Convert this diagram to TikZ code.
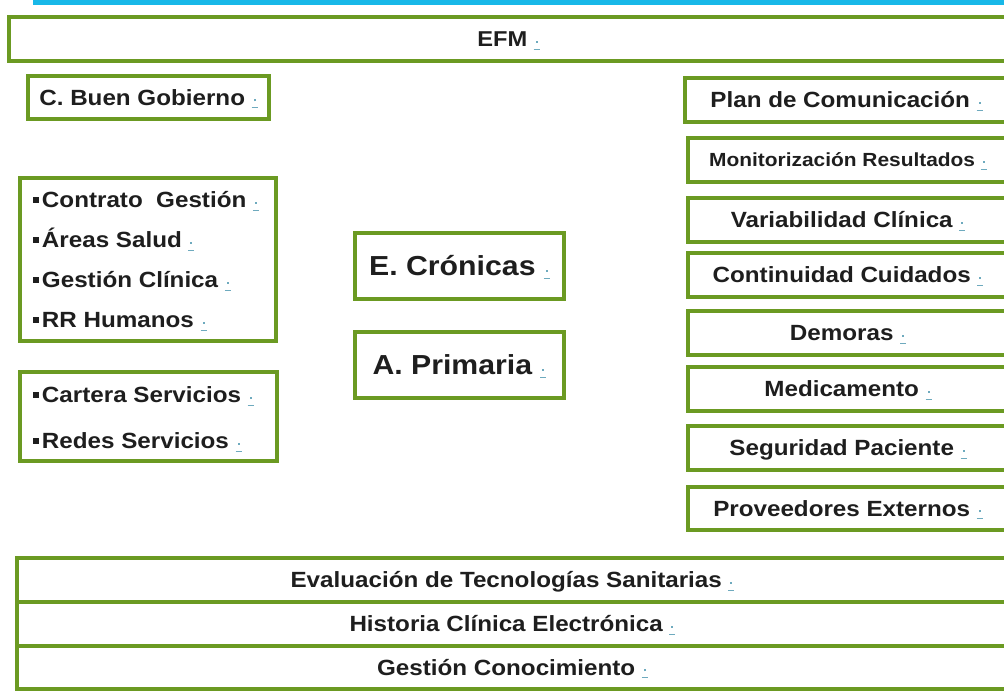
\documentclass[tikz,border=0pt]{standalone}
\usepackage{fontspec}
\setmainfont{Liberation Sans}[FakeStretch=1.1]
\definecolor{boxgreen}{RGB}{107,154,34}
\definecolor{topcyan}{RGB}{24,184,232}
\definecolor{linkc}{RGB}{110,170,190}
\definecolor{txt}{RGB}{30,30,30}
\newcommand{\lnk}{\hspace{0.3em}\textcolor{linkc}{\rlap{\rule[-3pt]{6pt}{1.2pt}}\hspace{2pt}\raisebox{4pt}{\rule{2pt}{2pt}}\hspace{2pt}}}
\newcommand{\sqb}{\rule[0.24em]{0.25em}{0.25em}\hspace{0.15em}}

\begin{document}
\begin{tikzpicture}[
    x=1pt,
    y=-1pt,
    fs/.style={font=\bfseries\fontsize{#1}{#1}\selectfont, text height=0.72*#1pt},
    b/.style={draw=boxgreen, line width=4pt, fill=white, text=txt, inner sep=0pt,
        text depth=0pt, fs=22},
    item/.style={anchor=west, inner sep=0pt, text=txt, text depth=0pt, fs=22},
]
    \useasboundingbox (0, 0) rectangle (1004, 700);
    \draw[topcyan, line width=5pt] (33, 2.5) -- (1010, 2.5);

    \node[b, minimum width=999pt, minimum height=44pt, fs=21.5] (efm) at (508.5, 39) {EFM\lnk};
    \node[b, minimum width=241pt, minimum height=43pt] (gob) at (148.5, 97.5) {C. Buen Gobierno\lnk};

    \node[b, minimum width=256pt, minimum height=163pt] (grpA) at (148, 259.5) {};
    \node[item] (contrato) at (33, 200) {\sqb Contrato\ \ Gestión\lnk};
    \node[item] (areas) at (33, 240) {\sqb Áreas Salud\lnk};
    \node[item] (gclin) at (33, 280) {\sqb Gestión Clínica\lnk};
    \node[item] (rrhh) at (33, 320) {\sqb RR Humanos\lnk};

    \node[b, minimum width=257pt, minimum height=89pt] (grpB) at (148.5, 416.5) {};
    \node[item] (cartera) at (33, 395) {\sqb Cartera Servicios\lnk};
    \node[item] (redes) at (33, 441) {\sqb Redes Servicios\lnk};

    \node[b, minimum width=209pt, minimum height=66pt, fs=27.5] (cron) at (459.5, 266) {E. Crónicas\lnk};
    \node[b, minimum width=209pt, minimum height=66pt, fs=27.5] (prim) at (459.5, 365) {A. Primaria\lnk};

    \node[b, minimum width=323pt, minimum height=44pt] (plan) at (846.5, 100) {Plan de Comunicación\lnk};
    \node[b, minimum width=320pt, minimum height=44pt, fs=19] (mon) at (848, 160) {Monitorización Resultados\lnk};
    \node[b, minimum width=320pt, minimum height=44pt] (var) at (848, 220) {Variabilidad Clínica\lnk};
    \node[b, minimum width=320pt, minimum height=44pt] (cont) at (848, 275) {Continuidad Cuidados\lnk};
    \node[b, minimum width=320pt, minimum height=44pt] (dem) at (848, 333) {Demoras\lnk};
    \node[b, minimum width=320pt, minimum height=44pt] (med) at (848, 389) {Medicamento\lnk};
    \node[b, minimum width=320pt, minimum height=44pt] (seg) at (848, 448) {Seguridad Paciente\lnk};
    \node[b, minimum width=320pt, minimum height=43pt] (prov) at (848, 508.5) {Proveedores Externos\lnk};

    \node[b, minimum width=991pt, minimum height=44pt] (ets) at (512.5, 580) {Evaluación de Tecnologías Sanitarias\lnk};
    \node[b, minimum width=991pt, minimum height=44pt] (hce) at (512.5, 624) {Historia Clínica Electrónica\lnk};
    \node[b, minimum width=991pt, minimum height=43pt] (gcon) at (512.5, 667.5) {Gestión Conocimiento\lnk};
\end{tikzpicture}
\end{document}
